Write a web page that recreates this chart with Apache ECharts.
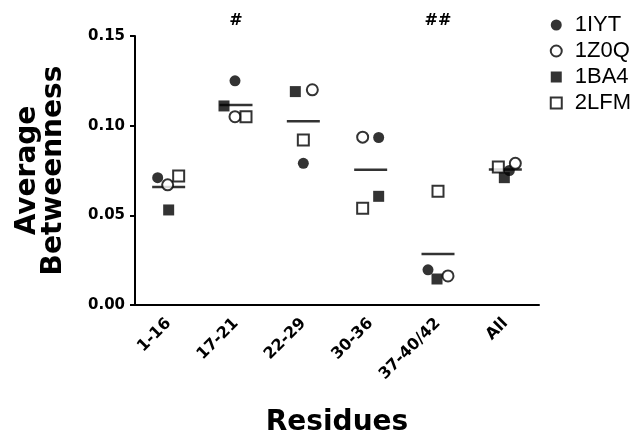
<!DOCTYPE html>
<html>
<head>
<meta charset="utf-8">
<script src="https://cdn.jsdelivr.net/npm/echarts@6/dist/echarts.min.js"></script>
<style>
  html, body { margin: 0; padding: 0; background: #fff; }
  #main { width: 636px; height: 436px; }
</style>
</head>
<body>
<div id="main"></div>
<script>
// data
var residues = ['1-16', '17-21', '22-29', '30-36', '37-40/42', 'All'];
var v1IYT = [0.071, 0.125, 0.079, 0.0934, 0.0196, 0.075];
var v1Z0Q = [0.067, 0.105, 0.120, 0.0936, 0.0162, 0.079];
var v1BA4 = [0.053, 0.111, 0.119, 0.0606, 0.0145, 0.071];
var v2LFM = [0.072, 0.105, 0.092, 0.0539, 0.0634, 0.077];
var yTicks = [0, 0.05, 0.10, 0.15];
var marks = {'17-21': '#', '37-40/42': '##'};   // significance marks

// horizontal scatter of the dots (px), style only
var jitter = {
    '1IYT': [-11, -1, 0, 8, -10, 4],
    '1Z0Q': [-1, -1, 9, -8, 10, 10],
    '1BA4': [0, -12, -8, 8, -1, -1],
    '2LFM': [10, 10, 0, -8, 0, -7]
};

var BOLD = '"DejaVu Sans", Verdana, sans-serif';
var FONT = '"Liberation Sans", Arial, sans-serif';

function pts(vals, name) {
    return vals.map(function (v, i) {
        return {value: [residues[i], v], symbolOffset: [jitter[name][i], 0]};
    });
}

function means() {
    return residues.map(function (c, i) {
        return [c, (v1IYT[i] + v1Z0Q[i] + v1BA4[i] + v2LFM[i]) / 4];
    });
}

function draw() {
    var myChart = echarts.init(document.getElementById('main'));

    var filled = {color: '#000'};
    var open = {color: '#fff', borderColor: '#000', borderWidth: 2};

    var option = {
        backgroundColor: '#fff',
        animation: false,
        textStyle: {fontFamily: FONT},
        grid: {left: 135, right: 97, top: 36, bottom: 131, outerBoundsMode: 'none', containLabel: false},
        legend: {
            orient: 'vertical',
            right: 0,
            top: 9,
            itemWidth: 11,
            itemHeight: 11,
            itemGap: 4,
            textStyle: {fontSize: 22, color: '#000', fontFamily: FONT, padding: [0, 0, 0, 8]},
            data: ['1IYT', '1Z0Q', '1BA4', '2LFM']
        },
        xAxis: {
            type: 'category',
            data: residues,
            name: 'Residues',
            nameLocation: 'middle',
            nameGap: 104,
            nameTextStyle: {fontSize: 28, fontWeight: 'bold', color: '#000', fontFamily: BOLD},
            axisLine: {lineStyle: {color: '#000', width: 2}},
            axisTick: {alignWithLabel: true, length: 6, lineStyle: {width: 2, color: '#000'}},
            axisLabel: {rotate: 45, fontSize: 16, fontWeight: 'bold', color: '#000', margin: 16, fontFamily: BOLD},
            splitLine: {show: false}
        },
        yAxis: {
            type: 'value',
            min: yTicks[0],
            max: yTicks[yTicks.length - 1],
            interval: 0.05,
            name: 'Average\nBetweenness',
            nameLocation: 'middle',
            nameGap: 68,
            nameTextStyle: {fontSize: 28, fontWeight: 'bold', color: '#000', lineHeight: 26, fontFamily: BOLD},
            axisLine: {show: true, lineStyle: {color: '#000', width: 2}},
            axisTick: {show: true, length: 5, lineStyle: {width: 2, color: '#000'}},
            axisLabel: {
                fontSize: 15, fontWeight: 'bold', color: '#000', margin: 10, fontFamily: BOLD,
                formatter: function (v) { return v.toFixed(2); }
            },
            splitLine: {show: false}
        },
        series: [
            {
                name: 'mean', type: 'scatter', silent: true, symbol: 'rect',
                symbolSize: [33, 2.5], itemStyle: {color: '#000'}, z: 1,
                data: means()
            },
            {name: '1IYT', type: 'scatter', symbol: 'circle', symbolSize: 11, itemStyle: filled, data: pts(v1IYT, '1IYT')},
            {name: '1Z0Q', type: 'scatter', symbol: 'circle', symbolSize: 11, itemStyle: open, data: pts(v1Z0Q, '1Z0Q')},
            {name: '1BA4', type: 'scatter', symbol: 'rect', symbolSize: 11, itemStyle: filled, data: pts(v1BA4, '1BA4')},
            {name: '2LFM', type: 'scatter', symbol: 'rect', symbolSize: 11, itemStyle: open, data: pts(v2LFM, '2LFM')}
        ]
    };

    myChart.setOption(option);

    // # marks above the columns
    var g = [];
    Object.keys(marks).forEach(function (c) {
        var p = myChart.convertToPixel({gridIndex: 0}, [c, 0]);
        g.push({
            type: 'text', x: p[0], y: 21,
            style: {text: marks[c], font: 'bold 16px ' + BOLD, fill: '#000', align: 'center', verticalAlign: 'middle'}
        });
    });
    myChart.setOption({graphic: g});
}

draw();
</script>
</body>
</html>
